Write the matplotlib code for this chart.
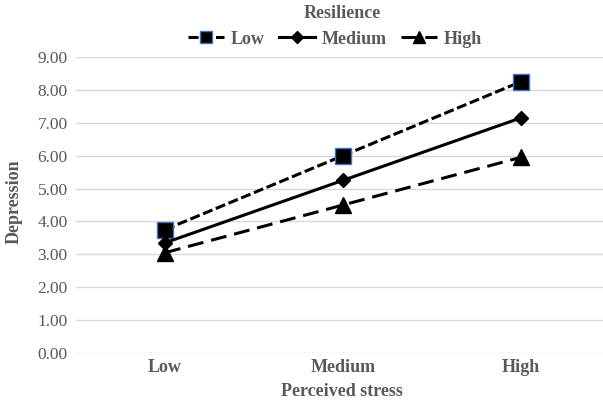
import matplotlib
matplotlib.use("Agg")
import matplotlib.pyplot as plt
from matplotlib.ticker import FormatStrFormatter

categories = ["Low", "Medium", "High"]
low_res = [3.75, 6.00, 8.25]
med_res = [3.35, 5.25, 7.15]
high_res = [3.05, 4.50, 5.95]
series_names = ["Low", "Medium", "High"]
yticks = [0, 1, 2, 3, 4, 5, 6, 7, 8, 9]

plt.rcParams['font.family'] = ['Liberation Serif', 'DejaVu Serif']
gray = "#595959"
fs = 13

fig = plt.figure(figsize=(6.03, 4.05), dpi=100)
ax = fig.add_axes([76/603, 52/405, 1 - 76/603, (353-57)/405])

x = list(range(len(categories)))
lw = 2.2
ax.plot(x, low_res, color="black", lw=lw, ls=(0, (3.3, 1.2)), marker="s", ms=11,
        mfc="black", mec="#4472C4", mew=1.0, label=series_names[0], zorder=3)
ax.plot(x, med_res, color="black", lw=lw, ls="-", marker="D", ms=7.5,
        mfc="black", mec="black", label=series_names[1], zorder=3)
ax.plot(x, high_res, color="black", lw=lw, ls=(0, (5.2, 2.6)), marker="^", ms=11,
        mfc="black", mec="black", label=series_names[2], zorder=3)

ax.set_xlim(-0.5, (603-76)/178 - 0.5)
ax.set_ylim(0, 9)
ax.set_yticks(yticks)
ax.yaxis.set_major_formatter(FormatStrFormatter("%.2f"))
ax.set_xticks(x)
ax.set_xticklabels(categories, fontweight="bold", fontsize=fs, color=gray)
ax.tick_params(axis="both", length=0, colors=gray)
ax.tick_params(axis="y", labelsize=12.5, pad=6)
ax.tick_params(axis="x", pad=4)
ax.grid(axis="y", color="#D9D9D9", lw=1.0)
ax.set_axisbelow(True)
for s in ax.spines.values():
    s.set_visible(False)

ax.set_ylabel("Depression", fontweight="bold", fontsize=fs, color=gray)
ax.yaxis.set_label_coords(14/603, 1 - 202/405, transform=fig.transFigure)
ax.set_xlabel("Perceived stress", fontweight="bold", fontsize=fs, color=gray)
ax.xaxis.set_label_coords(342/603, 1 - 392/405, transform=fig.transFigure)
ax.xaxis.label.set_va("center")
ax.yaxis.label.set_va("center")

fig.text(342/603, 1 - 13/405, "Resilience", ha="center", va="center",
         fontweight="bold", fontsize=fs, color=gray)
leg = fig.legend(loc="center", bbox_to_anchor=(335/603, 1 - 39/405), ncol=3,
                 frameon=False, handlelength=2.0, columnspacing=0.8, handletextpad=0.35,
                 prop={"weight": "bold", "size": fs})
for t in leg.get_texts():
    t.set_color(gray)
for h in leg.legend_handles:
    h.set_markersize(h.get_markersize() * 0.75)

fig.savefig("out.png", dpi=100)
